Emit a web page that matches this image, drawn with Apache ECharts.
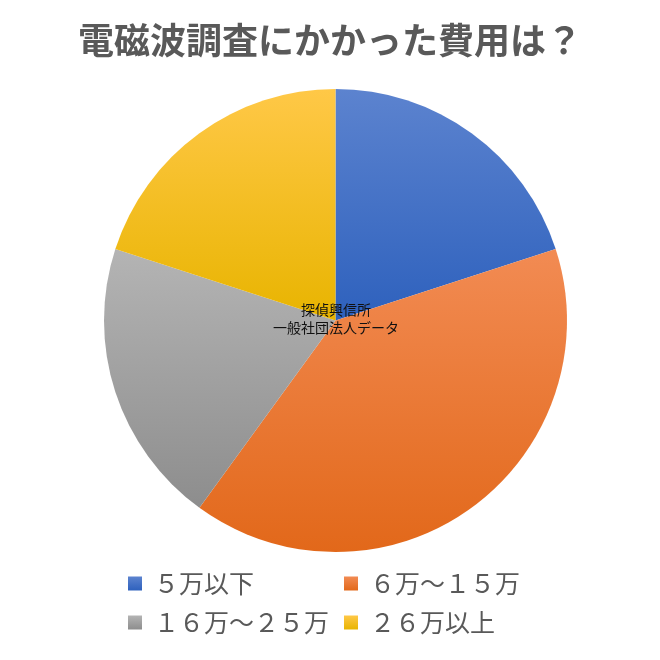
<!DOCTYPE html>
<html>
<head>
<meta charset="utf-8">
<script src="https://cdn.jsdelivr.net/npm/echarts@6/dist/echarts.min.js"></script>
<style>
html,body{margin:0;padding:0;background:#fff;}
#main{width:660px;height:660px;}
</style>
</head>
<body>
<div id="main"></div>
<script>
const categories = ['５万以下', '６万～１５万', '１６万～２５万', '２６万以上'];
const values = [20, 40, 20, 20];
const titleText = '電磁波調査にかかった費用は？';
const sourceLines = ['探偵興信所', '一般社団法人データ'];
const gradientStops = [
  ['#5c83cf', '#2e61bd'],
  ['#f28b53', '#e2681a'],
  ['#b4b4b4', '#8d8d8d'],
  ['#ffc847', '#e8b400']
];

const FONT = '"Noto Sans CJK JP", "Noto Sans", sans-serif';
const chart = echarts.init(document.getElementById('main'));

const data = categories.map((c, i) => ({
  name: c,
  value: values[i],
  itemStyle: {
    color: new echarts.graphic.LinearGradient(0, 0, 0, 1, [
      { offset: 0, color: gradientStops[i][0] },
      { offset: 1, color: gradientStops[i][1] }
    ])
  }
}));

const legendBase = {
  orient: 'vertical',
  icon: 'rect',
  itemWidth: 14,
  itemHeight: 14,
  itemGap: 14,
  top: 571,
  padding: 0,
  selectedMode: false,
  textStyle: {
    fontFamily: FONT,
    fontSize: 25,
    color: '#595959',
    padding: [0, 0, 0, 7]
  }
};

chart.setOption({
  animation: false,
  title: {
    text: titleText,
    left: 'center',
    top: 22,
    padding: 0,
    textStyle: {
      fontFamily: FONT,
      fontSize: 36,
      fontWeight: 'bold',
      color: '#595959'
    }
  },
  legend: [
    Object.assign({}, legendBase, { left: 128, data: [categories[0], categories[2]] }),
    Object.assign({}, legendBase, { left: 344, data: [categories[1], categories[3]] })
  ],
  graphic: [{
    type: 'text',
    x: 336,
    y: 301,
    z: 100,
    style: {
      text: sourceLines.join('\n'),
      font: '14px ' + FONT,
      fill: '#111',
      textAlign: 'center',
      lineHeight: 18
    }
  }],
  series: [{
    type: 'pie',
    center: [335.5, 320.5],
    radius: 231.5,
    startAngle: 90,
    clockwise: true,
    label: { show: false },
    labelLine: { show: false },
    emphasis: { disabled: true },
    itemStyle: { borderWidth: 0 },
    data: data
  }]
});
</script>
</body>
</html>
